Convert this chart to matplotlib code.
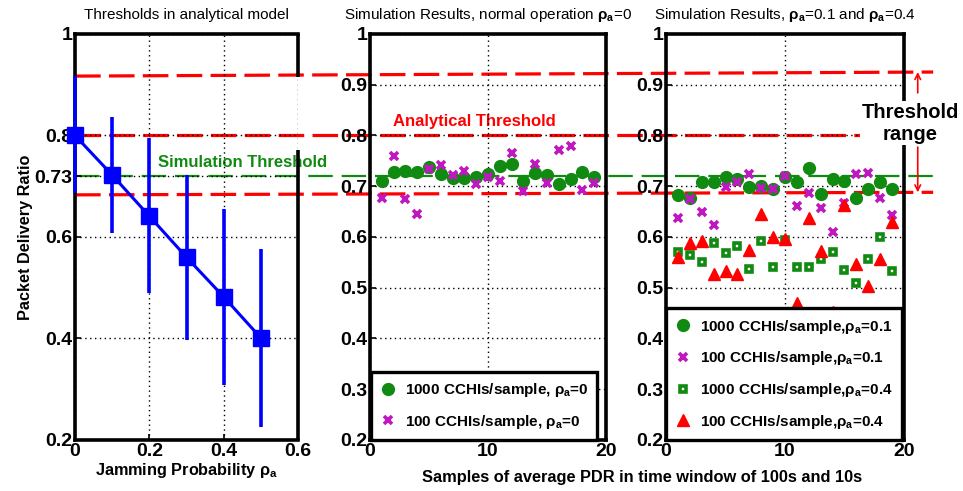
import matplotlib
matplotlib.use('Agg')
import matplotlib.pyplot as plt
import numpy as np

plt.rcParams['font.family'] = ['Liberation Sans', 'DejaVu Sans']
plt.rcParams['mathtext.fontset'] = 'custom'
plt.rcParams['mathtext.rm'] = 'Liberation Sans:bold'
plt.rcParams['mathtext.it'] = 'Liberation Sans:bold'
plt.rcParams['mathtext.bf'] = 'Liberation Sans:bold'

# Left panel: analytical model
jam_prob = [0, 0.1, 0.2, 0.3, 0.4, 0.5]
pdr_model = [0.800, 0.722, 0.641, 0.560, 0.482, 0.401]
pdr_upper = [0.917, 0.836, 0.795, 0.722, 0.655, 0.576]
pdr_lower = [0.687, 0.608, 0.490, 0.397, 0.308, 0.226]

# Simulation samples
samples = list(range(1, 20))
normal_1000 = [0.710, 0.729, 0.730, 0.729, 0.737, 0.724, 0.716, 0.716, 0.719, 0.724,
               0.740, 0.744, 0.710, 0.726, 0.722, 0.704, 0.714, 0.729, 0.719]
normal_100 = [0.676, 0.760, 0.675, 0.645, 0.733, 0.742, 0.722, 0.730, 0.704, 0.719,
              0.710, 0.765, 0.691, 0.743, 0.707, 0.771, 0.780, 0.693, 0.707]
jam01_1000 = [0.683, 0.677, 0.708, 0.708, 0.719, 0.714, 0.699, 0.700, 0.695, 0.719,
              0.709, 0.735, 0.684, 0.714, 0.710, 0.676, 0.695, 0.709, 0.695]
jam01_100 = [0.638, 0.675, 0.650, 0.624, 0.699, 0.708, 0.725, 0.696, 0.695, 0.720,
             0.662, 0.686, 0.658, 0.610, 0.667, 0.725, 0.727, 0.676, 0.643]
jam04_1000 = [0.571, 0.565, 0.551, 0.589, 0.568, 0.583, 0.536, 0.592, 0.540, 0.594,
              0.540, 0.541, 0.556, 0.571, 0.535, 0.509, 0.556, 0.600, 0.532]
jam04_100 = [0.560, 0.589, 0.592, 0.527, 0.533, 0.527, 0.574, 0.645, 0.600, 0.597,
             0.470, 0.637, 0.573, 0.453, 0.664, 0.546, 0.504, 0.556, 0.630]

# Threshold lines (left end, right end)
thr_high = (0.917, 0.925)
thr_mid = (0.80, 0.80)
thr_low = (0.683, 0.688)
sim_thr = 0.72

green = '#108a10'
magenta = '#c018c0'

fig = plt.figure(figsize=(9.63, 4.91), dpi=100)
bot, hgt = 0.1039, 0.8269

# overlay axes behind the panels for the threshold lines spanning all panels
ov = fig.add_axes([0, bot, 1, hgt])
ov.set_xlim(0, 1)
ov.set_ylim(0.2, 1)
ov.axis('off')
ov.set_zorder(0)

ax1 = fig.add_axes([0.0779, bot, 0.2316, hgt])
ax2 = fig.add_axes([0.3842, bot, 0.2451, hgt])
ax3 = fig.add_axes([0.6916, bot, 0.2471, hgt])
for ax in (ax1, ax2, ax3):
    ax.set_zorder(1)
    ax.patch.set_alpha(0)
    ax.set_ylim(0.2, 1)
    for s in ax.spines.values():
        s.set_linewidth(2.6)
    ax.tick_params(direction='in', length=4, width=1.2, labelsize=14, pad=2)
    ax.grid(True, linestyle=(0, (1, 2.5)), color='black', linewidth=1)

x0, x_end, x_mid_end = 0.078, 0.969, 0.893
red_dash = (0, (8, 2.6))
ov.plot([x0, x_end], thr_high, color='red', lw=2.3, linestyle=red_dash)
ov.plot([x0, x_mid_end], thr_mid, color='red', lw=2.3, linestyle=red_dash)
ov.plot([x0, x_end], thr_low, color='red', lw=2.3, linestyle=red_dash)
ov.plot([x0, x_end], [sim_thr, sim_thr], color=green, lw=1.6, linestyle=(0, (11, 4)))

ov.text(0.493, 0.827, 'Analytical Threshold', color='red', fontsize=12,
        fontweight='bold', ha='center', va='center')
ov.text(0.252, 0.746, 'Simulation Threshold', color=green, fontsize=12,
        fontweight='bold', ha='center', va='center')

arrow_x = 0.953
ov.annotate('', xy=(arrow_x, thr_high[1]), xytext=(arrow_x, 0.884),
            arrowprops=dict(arrowstyle='->', color='red', lw=1.2, shrinkA=0, shrinkB=0))
ov.annotate('', xy=(arrow_x, thr_low[1]), xytext=(arrow_x, 0.777),
            arrowprops=dict(arrowstyle='->', color='red', lw=1.2, shrinkA=0, shrinkB=0))

# Left panel
err = [np.array(pdr_model) - np.array(pdr_lower), np.array(pdr_upper) - np.array(pdr_model)]
ax1.errorbar(jam_prob, pdr_model, yerr=err, color='blue', lw=2.2, elinewidth=2.6,
             marker='s', markersize=11, capsize=0, clip_on=False, zorder=3)
ax1.set_xlim(0, 0.6)
ax1.set_xticks([0, 0.2, 0.4, 0.6])
ax1.set_xticklabels(['0', '0.2', '0.4', '0.6'], fontweight='bold')
ax1.set_yticks([0.2, 0.4, 0.6, 0.72, 0.8, 1.0])
ax1.set_yticklabels(['0.2', '0.4', '0.6', '0.73', '0.8', '1'], fontweight='bold')
ax1.set_title('Thresholds in analytical model', fontsize=11, pad=11)
ax1.set_xlabel(r'Jamming Probability $\rho_a$', fontsize=11.7, fontweight='bold', labelpad=1)
ax1.set_ylabel('Packet Delivery Ratio', fontsize=11.7, fontweight='bold', labelpad=1)
# right spine of the left panel is broken around the threshold labels
ax1.spines['right'].set_visible(False)
ax1.plot([1, 1], [0, (0.771 - 0.2) / 0.8], transform=ax1.transAxes, color='black',
         lw=2.6, clip_on=False, solid_capstyle='butt')
ax1.plot([1, 1], [(0.915 - 0.2) / 0.8, 1], transform=ax1.transAxes, color='black',
         lw=2.6, clip_on=False, solid_capstyle='butt')

yt = [0.2, 0.3, 0.4, 0.5, 0.6, 0.7, 0.8, 0.9, 1.0]
ytl = ['0.2', '0.3', '0.4', '0.5', '0.6', '0.7', '0.8', '0.9', '1']

# Middle panel
ax2.plot(samples, normal_1000, 'o', color=green, markersize=8.5, label=r'1000 CCHIs/sample, $\rho_a$=0')
ax2.plot(samples, normal_100, 'x', color=magenta, markersize=6, mew=2.6, label=r'100 CCHIs/sample, $\rho_a$=0')
ax2.set_xlim(0, 20)
ax2.set_xticks([0, 10, 20])
ax2.set_xticklabels(['0', '10', '20'], fontweight='bold')
ax2.set_yticks(yt)
ax2.set_yticklabels(ytl, fontweight='bold')
ax2.set_title(r'Simulation Results, normal operation $\rho_a$=0', fontsize=11, pad=11)
leg2 = ax2.legend(loc='lower left', bbox_to_anchor=(0.004, 0.0), borderaxespad=0, numpoints=1,
                  fancybox=False, edgecolor='black', framealpha=1, handlelength=1.0,
                  handletextpad=0.6, borderpad=0.6, labelspacing=0.9,
                  prop={'size': 11, 'weight': 'bold'})
leg2.get_frame().set_linewidth(2.4)

# Right panel
ax3.plot(samples, jam01_1000, 'o', color=green, markersize=8.5, label=r'1000 CCHIs/sample,$\rho_a$=0.1')
ax3.plot(samples, jam01_100, 'x', color=magenta, markersize=6, mew=2.6, label=r'100 CCHIs/sample,$\rho_a$=0.1')
ax3.plot(samples, jam04_1000, 's', color=green, markerfacecolor='white', markeredgecolor=green,
         markersize=4, mew=2.6, label=r'1000 CCHIs/sample,$\rho_a$=0.4')
ax3.plot(samples, jam04_100, '^', color='red', markersize=9, label=r'100 CCHIs/sample,$\rho_a$=0.4')
ax3.set_xlim(0, 20)
ax3.set_xticks([0, 10, 20])
ax3.set_xticklabels(['0', '10', '20'], fontweight='bold')
ax3.set_yticks(yt)
ax3.set_yticklabels(ytl, fontweight='bold')
ax3.set_title(r'Simulation Results, $\rho_a$=0.1 and $\rho_a$=0.4', fontsize=11, pad=11)
leg3 = ax3.legend(loc='lower left', bbox_to_anchor=(0.0, 0.0), borderaxespad=0, numpoints=1,
                  fancybox=False, edgecolor='black', framealpha=1, handlelength=1.0,
                  handletextpad=0.6, borderpad=0.6, labelspacing=0.9,
                  prop={'size': 11, 'weight': 'bold'})
leg3.get_frame().set_linewidth(2.4)

ax3.text(0.945, 0.824, 'Threshold\nrange', transform=ov.transData, fontsize=14.5,
         fontweight='bold', ha='center', va='center', linespacing=1.2, clip_on=False,
         bbox=dict(facecolor='white', edgecolor='none', pad=1), zorder=5)

fig.text(0.667, 0.028, 'Samples of average PDR in time window of 100s and 10s',
         fontsize=11.8, fontweight='bold', ha='center', va='center')

fig.savefig('out.png', dpi=100)
